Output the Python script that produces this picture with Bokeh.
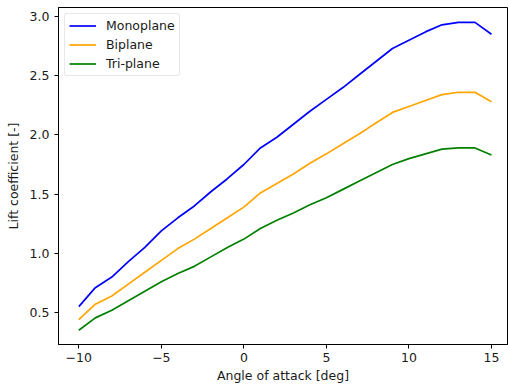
from bokeh.plotting import figure
from bokeh.models import Range1d, FixedTicker, Legend, LegendItem, NumeralTickFormatter
from bokeh.embed import file_html
from bokeh.resources import INLINE

angle = list(range(-10, 16))
monoplane = [0.55, 0.71, 0.80, 0.93, 1.05, 1.19, 1.30, 1.40, 1.52, 1.63, 1.75, 1.89, 1.98,
             2.09, 2.20, 2.30, 2.40, 2.51, 2.62, 2.73, 2.80, 2.87, 2.93, 2.95, 2.95, 2.85]
biplane = [0.44, 0.57, 0.64, 0.74, 0.84, 0.94, 1.04, 1.12, 1.21, 1.30, 1.39, 1.51, 1.59,
           1.67, 1.76, 1.84, 1.925, 2.01, 2.10, 2.19, 2.24, 2.29, 2.34, 2.36, 2.36, 2.28]
triplane = [0.35, 0.455, 0.52, 0.60, 0.68, 0.76, 0.83, 0.89, 0.97, 1.05, 1.12, 1.21, 1.28,
            1.34, 1.41, 1.47, 1.54, 1.61, 1.68, 1.75, 1.80, 1.84, 1.88, 1.89, 1.89, 1.83]
x_ticks = [-10, -5, 0, 5, 10, 15]
y_ticks = [0.5, 1.0, 1.5, 2.0, 2.5, 3.0]

FONT = "DejaVu Sans"
FS = "12.5px"

p = figure(width=508, height=388, output_backend="svg", toolbar_location=None,
           x_range=Range1d(-11.23, 15.97), y_range=Range1d(0.23, 3.076),
           min_border_left=58, min_border_right=1, min_border_top=7, min_border_bottom=44)
p.xgrid.visible = False
p.ygrid.visible = False
p.outline_line_color = "black"
p.outline_line_width = 1
p.background_fill_color = "white"

r1 = p.line(angle, monoplane, line_color="blue", line_width=1.7)
r2 = p.line(angle, biplane, line_color="orange", line_width=1.7)
r3 = p.line(angle, triplane, line_color="green", line_width=1.7)

for ax in (p.xaxis[0], p.yaxis[0]):
    ax.axis_line_color = "black"
    ax.major_tick_line_color = "black"
    ax.major_tick_out = 4
    ax.major_tick_in = 0
    ax.minor_tick_line_color = None
    ax.major_label_text_font = FONT
    ax.major_label_text_font_size = FS
    ax.major_label_text_color = "#1a1a1a"
    ax.axis_label_text_font = FONT
    ax.axis_label_text_font_size = FS
    ax.axis_label_text_font_style = "normal"
    ax.axis_label_text_color = "#1a1a1a"

p.xaxis.ticker = FixedTicker(ticks=x_ticks)
p.yaxis.ticker = FixedTicker(ticks=y_ticks)
p.yaxis.formatter = NumeralTickFormatter(format="0.0")
p.xaxis.major_label_overrides = {-10: "\u221210", -5: "\u22125"}
p.xaxis.axis_label = "Angle of attack [deg]"
p.yaxis.axis_label = "Lift coefficient [-]"
p.xaxis.major_label_standoff = 4
p.yaxis.major_label_standoff = 5
p.xaxis.axis_label_standoff = 3
p.yaxis.axis_label_standoff = 6

legend = Legend(items=[LegendItem(label="Monoplane", renderers=[r1]),
                       LegendItem(label="Biplane", renderers=[r2]),
                       LegendItem(label="Tri-plane", renderers=[r3])],
                location="top_left")
legend.label_text_font = FONT
legend.label_text_font_size = FS
legend.label_text_color = "#1a1a1a"
legend.border_line_color = "#d0d0d0"
legend.border_line_width = 1
legend.background_fill_alpha = 0.8
legend.glyph_width = 27
legend.glyph_height = 15
legend.label_height = 15
legend.spacing = 4
legend.padding = 4
legend.margin = 6
legend.label_standoff = 10
if "border_radius" in Legend.properties():
    legend.border_radius = 3
p.add_layout(legend)

open("out.html", "w").write(file_html(p, INLINE))
